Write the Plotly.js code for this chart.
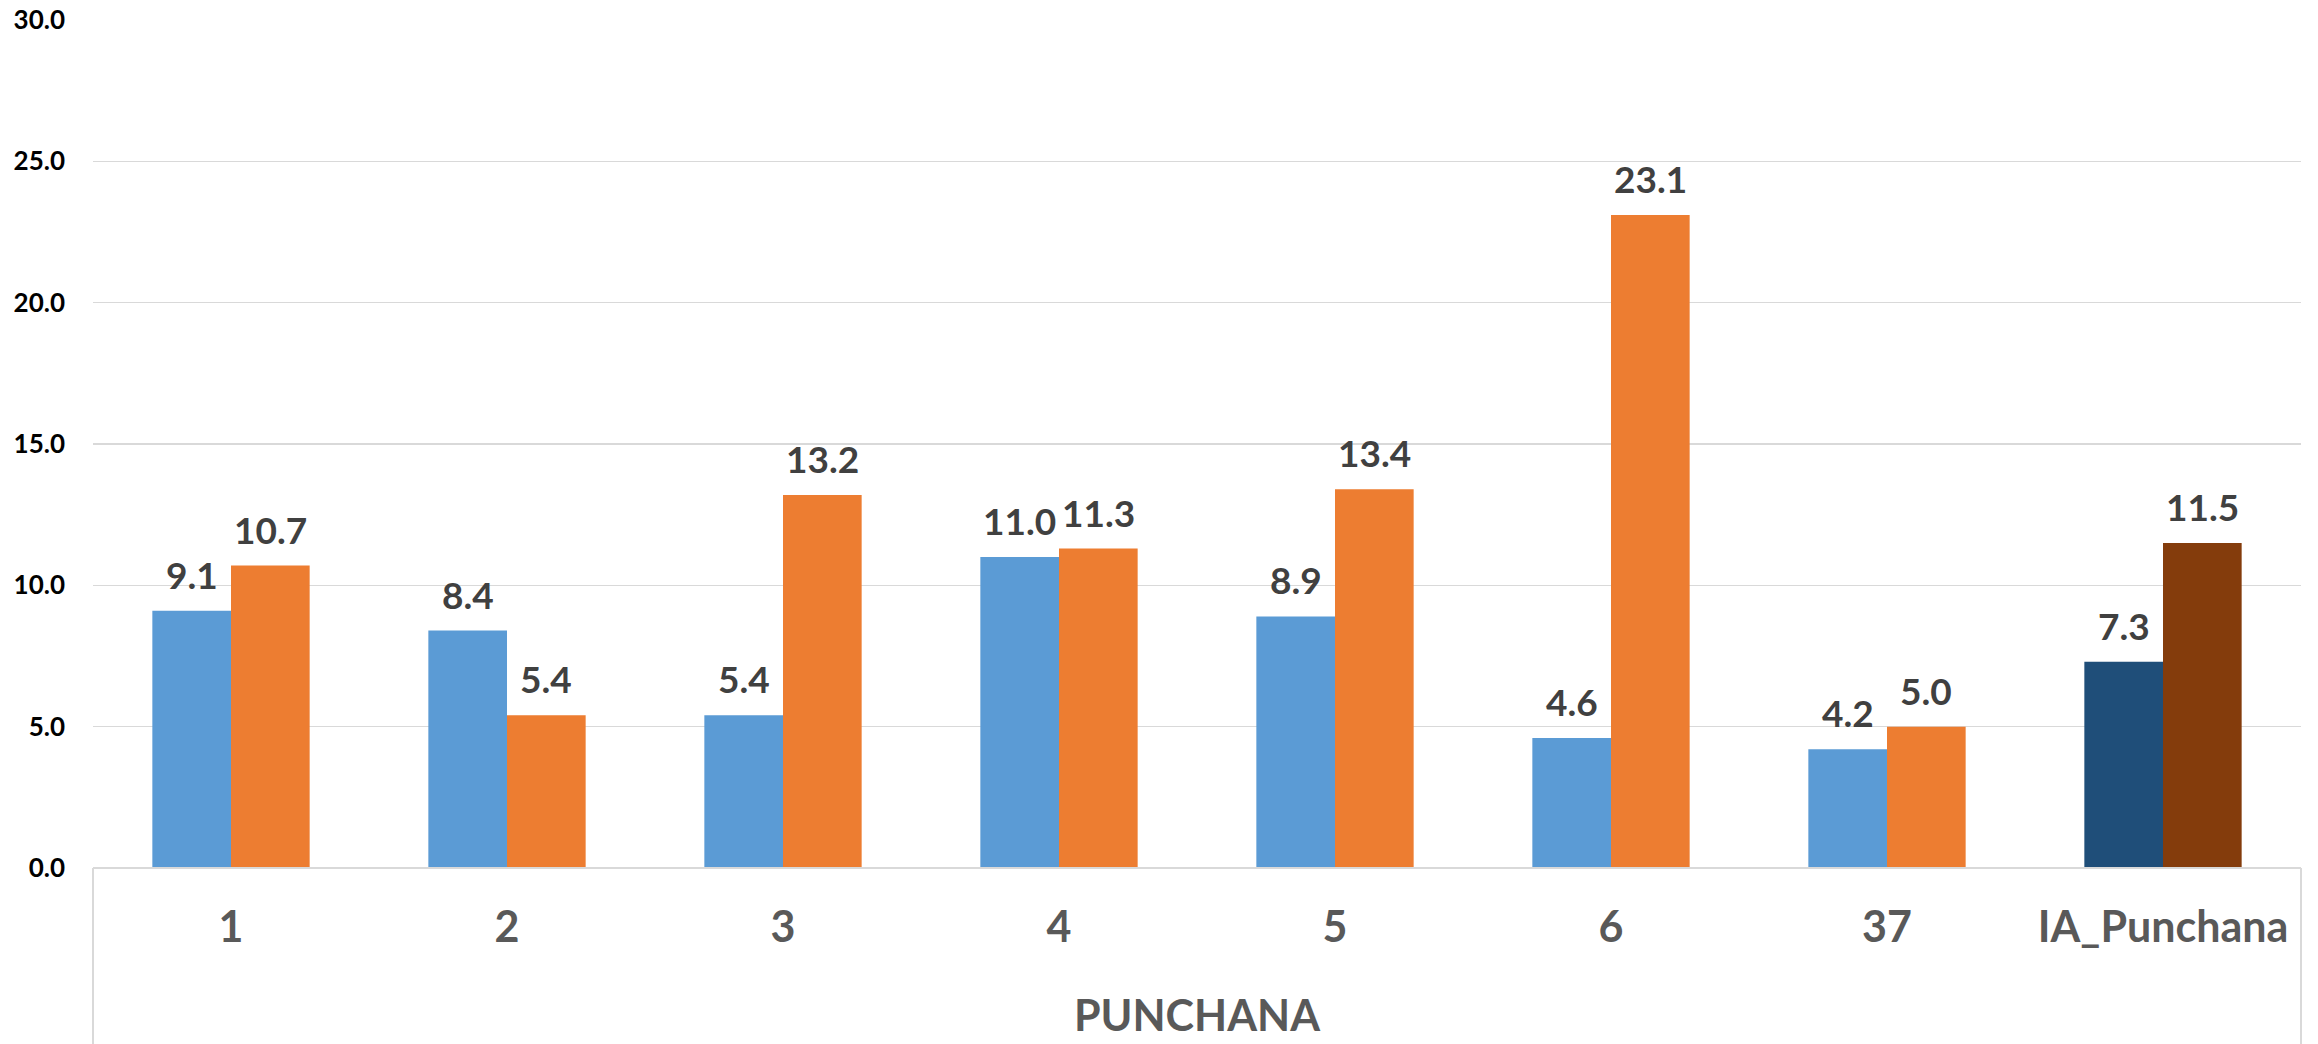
<!DOCTYPE html>
<html>
<head>
<meta charset="utf-8">
<script src="https://cdn.plot.ly/plotly-3.0.1.min.js"></script>
<style>html,body{margin:0;padding:0;background:#fff;}#chart{width:2318px;height:1044px;}</style>
</head>
<body>
<div id="chart"></div>
<script>
const categories = ["1", "2", "3", "4", "5", "6", "37", "IA_Punchana"];
const seriesA = [9.1, 8.4, 5.4, 11.0, 8.9, 4.6, 4.2, 7.3];
const seriesB = [10.7, 5.4, 13.2, 11.3, 13.4, 23.1, 5.0, 11.5];
const colorsA = ["#5B9BD5","#5B9BD5","#5B9BD5","#5B9BD5","#5B9BD5","#5B9BD5","#5B9BD5","#1F4E79"];
const colorsB = ["#ED7D31","#ED7D31","#ED7D31","#ED7D31","#ED7D31","#ED7D31","#ED7D31","#843C0C"];
const yTicks = [0, 5, 10, 15, 20, 25, 30];
const xTitle = "PUNCHANA";

const FONT = "Lato, 'Open Sans', sans-serif";
const traces = [
  {type: "bar", x: categories, y: seriesA, marker: {color: colorsA}, hoverinfo: "x+y"},
  {type: "bar", x: categories, y: seriesB, marker: {color: colorsB}, hoverinfo: "x+y"}
];

const barShift = 39.3;
const annotations = [];
[seriesA, seriesB].forEach((vals, s) => {
  vals.forEach((v, i) => {
    annotations.push({
      x: i, y: v, xref: "x", yref: "y",
      text: v.toFixed(1), showarrow: false,
      xanchor: "center", yanchor: "bottom",
      xshift: s === 0 ? -barShift : barShift, yshift: 12,
      font: {family: FONT, size: 37, color: "#404040", weight: 700}
    });
  });
});

const layout = {
  width: 2318, height: 1044,
  margin: {l: 93, r: 17, t: 20, b: 176},
  paper_bgcolor: "#ffffff", plot_bgcolor: "#ffffff",
  showlegend: false,
  barmode: "group", bargap: 0.43, bargroupgap: 0,
  font: {family: FONT},
  xaxis: {
    type: "category",
    range: [-0.5, categories.length - 0.5],
    showgrid: false, zeroline: false,
    showline: false,
    ticks: "", ticklabelstandoff: 30, tickangle: 0,
    tickfont: {family: FONT, size: 43, color: "#595959", weight: 700},
    title: {text: xTitle, standoff: 50, font: {family: FONT, size: 43, color: "#595959", weight: 700}},
    automargin: false
  },
  yaxis: {
    range: [0, 30],
    tickvals: yTicks, tickformat: ".1f",
    showgrid: true, gridcolor: "#d9d9d9", gridwidth: 1.5,
    zeroline: false, showline: false,
    ticks: "", ticklabelstandoff: 27,
    tickfont: {family: FONT, size: 26, color: "#000000", weight: 700},
    automargin: false
  },
  annotations: annotations,
  shapes: [
    {type: "line", xref: "paper", yref: "paper", x0: 0, x1: 1, y0: 0, y1: 0, line: {color: "#d9d9d9", width: 2}},
    {type: "line", xref: "paper", yref: "paper", x0: 0, x1: 0, y0: 0, y1: -0.21, line: {color: "#d9d9d9", width: 2}},
    {type: "line", xref: "paper", yref: "paper", x0: 1, x1: 1, y0: 0, y1: -0.21, line: {color: "#d9d9d9", width: 2}}
  ]
};

Plotly.newPlot("chart", traces, layout, {displayModeBar: false, staticPlot: true});
</script>
</body>
</html>
